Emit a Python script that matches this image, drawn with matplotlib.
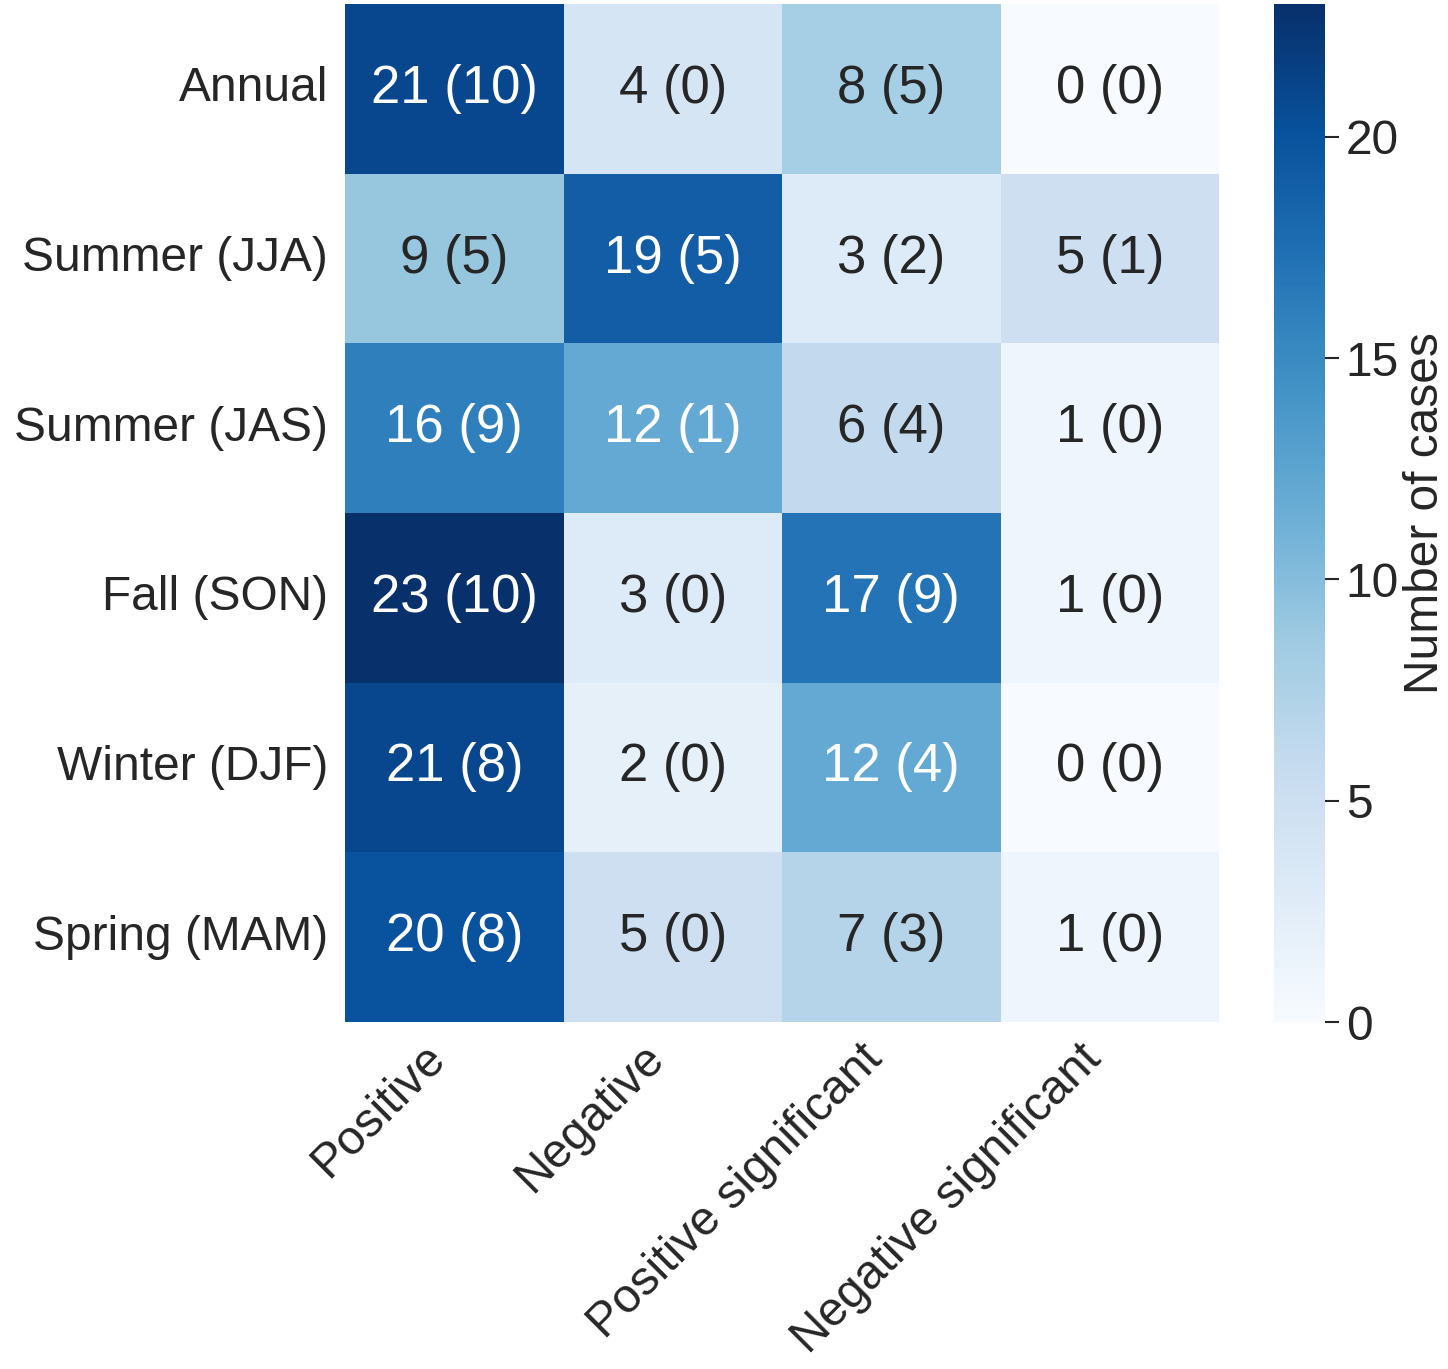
import matplotlib
matplotlib.use("Agg")
import matplotlib.pyplot as plt
import seaborn as sns
import numpy as np

rows = ["Annual", "Summer (JJA)", "Summer (JAS)", "Fall (SON)", "Winter (DJF)", "Spring (MAM)"]
cols = ["Positive", "Negative", "Positive significant", "Negative significant"]
counts = [
    [21, 4, 8, 0],
    [9, 19, 3, 5],
    [16, 12, 6, 1],
    [23, 3, 17, 1],
    [21, 2, 12, 0],
    [20, 5, 7, 1],
]
signif = [
    [10, 0, 5, 0],
    [5, 5, 2, 1],
    [9, 1, 4, 0],
    [10, 0, 9, 0],
    [8, 0, 4, 0],
    [8, 0, 3, 0],
]

sns.set_theme(style="white")
plt.rcParams['font.family'] = ['Liberation Sans', 'DejaVu Sans']
plt.rcParams['text.color'] = '#262626'
plt.rcParams['xtick.color'] = '#262626'
plt.rcParams['ytick.color'] = '#262626'

data = np.array(counts)
labels = np.array([[f"{c} ({s})" for c, s in zip(cr, sr)] for cr, sr in zip(counts, signif)])

fig = plt.figure(figsize=(14.48, 13.69), dpi=100)
ax = fig.add_axes([345/1448, 1-1022/1369, (1219-345)/1448, (1022-4)/1369])
cax = fig.add_axes([1274/1448, 1-1022/1369, (1325-1274)/1448, (1022-4)/1369])

sns.heatmap(data, ax=ax, cbar_ax=cax, cmap="Blues", annot=labels, fmt="",
            annot_kws={"fontsize": 38}, xticklabels=cols, yticklabels=rows,
            vmin=0, vmax=23)

ax.tick_params(axis='y', labelsize=34.5, length=0, pad=12)
ax.tick_params(axis='x', labelsize=34.5, length=0, pad=10)
ax.set_yticklabels(rows, rotation=0)
ax.set_xticklabels(cols, rotation=45, ha='right')

cb = ax.collections[0].colorbar
cb.set_ticks([0, 5, 10, 15, 20])
cax.tick_params(labelsize=34.5, length=10, width=1.5, color='#262626', pad=5)
cb.set_label("Number of cases", fontsize=34.5, labelpad=3)
cb.outline.set_visible(False)

fig.savefig("out.png", dpi=100)
